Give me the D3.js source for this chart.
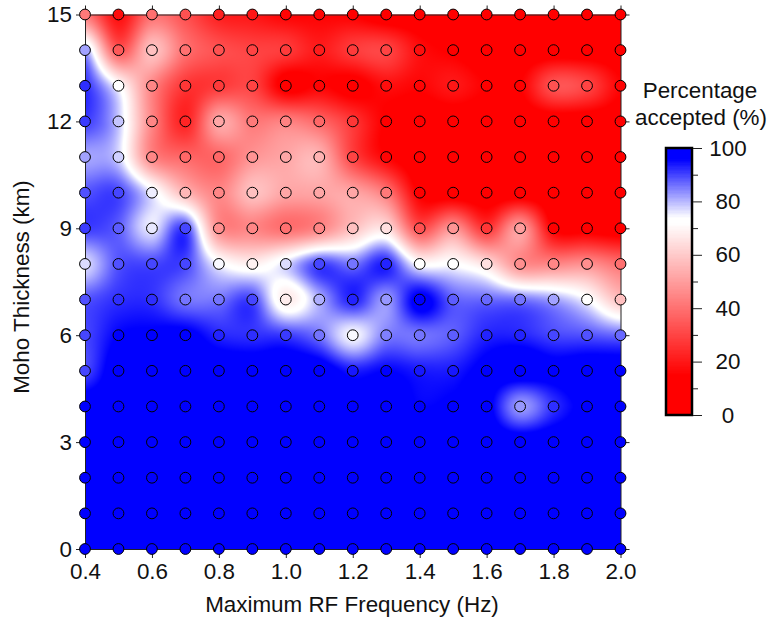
<!DOCTYPE html>
<html lang="en">
<head>
<meta charset="UTF-8">
<title>Percentage accepted</title>
<script src="https://cdn.jsdelivr.net/npm/d3@7"></script>
<style>
  html, body { margin: 0; padding: 0; background: #fff; }
  svg { display: block; }
  text { font-family: "Liberation Sans", Arial, sans-serif; fill: #111; }
</style>
</head>
<body>
<div id="container"></div>
<script>
// grid axes
const freqs = [0.4, 0.5, 0.6, 0.7, 0.8, 0.9, 1.0, 1.1, 1.2, 1.3, 1.4, 1.5, 1.6, 1.7, 1.8, 1.9, 2.0]
const thicknesses = [15, 14, 13, 12, 11, 10, 9, 8, 7, 6, 5, 4, 3, 2, 1, 0]
const freqTicks = [0.4, 0.6, 0.8, 1.0, 1.2, 1.4, 1.6, 1.8, 2.0]
const thickTicks = [0, 3, 6, 9, 12, 15]
const barTicks = [0, 20, 40, 60, 80, 100]
const barMinorTicks = [10, 30, 50, 70, 90]

// percentage accepted, one list per moho thickness
const row15 = [42, 18, 40, 33, 22, 20, 16, 16, 15, 10, 10, 10, 10, 10, 10, 10, 10]
const row14 = [82, 35, 58, 40, 33, 30, 28, 21, 28, 30, 18, 14, 10, 10, 10, 10, 10]
const row13 = [92, 73, 45, 27, 28, 30, 12, 16, 12, 18, 16, 20, 15, 15, 33, 30, 16]
const row12 = [91, 79, 45, 23, 52, 42, 44, 38, 27, 14, 10, 10, 10, 10, 10, 10, 10]
const row11 = [82, 78, 45, 38, 38, 48, 52, 55, 30, 16, 10, 10, 10, 10, 10, 10, 10]
const row10 = [89, 90, 75.5, 56, 45, 58, 52, 52, 52, 42, 14, 10, 10, 10, 10, 10, 10]
const row9 = [91, 88, 76, 90, 47, 45, 40, 45, 58, 65, 33, 48, 27, 50, 15, 12, 10]
const row8 = [77, 89, 90, 90, 74.5, 69, 77, 90, 86, 93, 73, 73, 65, 47, 45, 47, 40]
const row7 = [89, 92, 92, 86, 86, 90, 68, 81, 93, 83, 98, 88, 87, 86, 82, 74, 58]
const row6 = [90, 96, 97, 98, 93, 92, 91, 86, 74.5, 85, 86, 88, 93, 93, 90, 89, 87]
const row5 = [90, 100, 100, 100, 100, 100, 100, 100, 94, 96, 94, 94, 98, 100, 98, 100, 100]
const row4 = [100, 100, 100, 100, 100, 100, 100, 100, 98, 100, 96, 97, 98, 83, 92, 98, 100]
const row3 = [100, 100, 100, 100, 100, 100, 100, 100, 100, 100, 100, 100, 100, 100, 100, 100, 100]
const row2 = [100, 100, 100, 100, 100, 100, 100, 100, 100, 100, 100, 100, 100, 100, 100, 100, 100]
const row1 = [100, 100, 100, 100, 100, 100, 100, 100, 100, 100, 100, 100, 100, 100, 100, 100, 100]
const row0 = [100, 100, 100, 100, 100, 100, 100, 100, 100, 100, 100, 100, 100, 100, 100, 100, 100]
const accepted = [row15, row14, row13, row12, row11, row10, row9, row8, row7, row6, row5, row4, row3, row2, row1, row0]

const w = 769; const h = 621
const left = 85; const right = 620.5; const top_ = 14.5; const bottom = 549
const barX = 666; const barW = 26; const barTop = 148; const barBottom = 415
const fontSize = 22.4

const x = d3.scaleLinear([0.4, 2.0], [left, right])
const y = d3.scaleLinear([0, 15], [bottom, top_])
const barY = d3.scaleLinear([0, 100], [barBottom, barTop])

// red up to about 15, white near 73, blue from about 96
const color = d3.scaleLinear()
    .domain([0, 15, 72, 74, 96, 100])
    .range(["#ff0000", "#ff0000", "#ffffff", "#ffffff", "#0000ff", "#0000ff"])
    .clamp(true)

const svg = d3.select("#container").append("svg").attr("width", w).attr("height", h)

// catmull-rom through 4 neighbours, used for the smooth background
function cr(a, b, c, d, t) {
    return 0.5 * (2 * b + (c - a) * t + (2 * a - 5 * b + 4 * c - d) * t * t + (3 * b - a - 3 * c + d) * t * t * t)
}
function sample(fx, fy) { //fx,fy are fractional grid indices
    const nx = freqs.length; const ny = thicknesses.length
    const i = Math.min(Math.floor(fx), nx - 2); const j = Math.min(Math.floor(fy), ny - 2)
    const cols = []
    for (let k = -1; k <= 2; k++) {
        const r = accepted[Math.max(0, Math.min(ny - 1, j + k))]
        cols.push(cr(r[Math.max(0, i - 1)], r[i], r[i + 1], r[Math.min(nx - 1, i + 2)], fx - i))
    }
    return cr(cols[0], cols[1], cols[2], cols[3], fy - j)
}

// paint the field to a canvas, put it in the svg as an image
const cw = Math.round(right - left); const ch = Math.round(bottom - top_)
const canvas = document.createElement("canvas")
canvas.width = cw; canvas.height = ch
const ctx = canvas.getContext("2d")
const img = ctx.createImageData(cw, ch)
const xGrid = d3.scaleLinear([0.4, 2.0], [0, freqs.length - 1])
const yGrid = d3.scaleLinear([15, 0], [0, thicknesses.length - 1])
for (let py = 0; py < ch; py++) {
    for (let px = 0; px < cw; px++) {
        const f = x.invert(left + px + 0.5); const t = y.invert(top_ + py + 0.5)
        const c = d3.rgb(color(sample(xGrid(f), yGrid(t))))
        const o = (py * cw + px) * 4
        img.data[o] = c.r; img.data[o + 1] = c.g; img.data[o + 2] = c.b; img.data[o + 3] = 255
    }
}
ctx.putImageData(img, 0, 0)
svg.append("image").attr("x", left).attr("y", top_).attr("width", cw).attr("height", ch)
    .attr("href", canvas.toDataURL())

// frame + ticks on all four sides
const fmtF = d3.format(".1f")
const axes = [
    [d3.axisBottom(x).tickValues(freqTicks).tickFormat(fmtF), 0, bottom, 5],
    [d3.axisTop(x).tickValues(freqTicks).tickFormat(""), 0, top_, 4],
    [d3.axisLeft(y).tickValues(thickTicks), left, 0, 4],
    [d3.axisRight(y).tickValues(thickTicks).tickFormat(""), right, 0, 4]
]
axes.forEach(([ax, tx, ty, pad]) => {
    const g = svg.append("g").attr("transform", `translate(${tx},${ty})`)
        .call(ax.tickSize(9).tickSizeOuter(0).tickPadding(pad))
    g.attr("font-family", null).attr("font-size", fontSize)
    g.selectAll("path, line").attr("stroke", "#222").attr("stroke-width", 1)
})

// grid points
const points = []
thicknesses.forEach((t, j) => freqs.forEach((f, i) => points.push({ f, t, v: accepted[j][i] })))
svg.append("g").selectAll("circle").data(points).enter().append("circle")
    .attr("cx", d => x(d.f)).attr("cy", d => y(d.t)).attr("r", 5.4)
    .attr("fill", d => color(d.v)).attr("stroke", "#000").attr("stroke-width", 1)

// colour bar
const barSteps = d3.range(0, 100, 0.5)
svg.append("g").attr("shape-rendering", "crispEdges").selectAll("rect").data(barSteps).enter().append("rect")
    .attr("x", barX).attr("width", barW)
    .attr("y", d => barY(d + 0.5)).attr("height", d => barY(d) - barY(d + 0.5) + 0.5)
    .attr("fill", d => color(d + 0.25))
svg.append("rect").attr("x", barX).attr("y", barTop).attr("width", barW).attr("height", barBottom - barTop)
    .attr("fill", "none").attr("stroke", "#000").attr("stroke-width", 2.5)

const barMajor = svg.append("g").attr("transform", `translate(${barX + barW + 1},0)`)
    .call(d3.axisRight(barY).tickValues(barTicks).tickSize(9).tickPadding(0))
barMajor.select(".domain").remove()
barMajor.attr("font-family", null).attr("font-size", fontSize)
barMajor.selectAll("line").attr("stroke", "#222")
barMajor.selectAll("text").attr("text-anchor", "middle").attr("x", 35)
const barMinor = svg.append("g").attr("transform", `translate(${barX + barW + 1},0)`)
    .call(d3.axisRight(barY).tickValues(barMinorTicks).tickSize(5).tickFormat(""))
barMinor.select(".domain").remove()
barMinor.selectAll("line").attr("stroke", "#222")

// titles
svg.append("text").attr("x", 352).attr("y", 612).attr("text-anchor", "middle").attr("font-size", fontSize)
    .text("Maximum RF Frequency (Hz)")
svg.append("text").attr("transform", "translate(29,287) rotate(-90)").attr("text-anchor", "middle").attr("font-size", fontSize)
    .text("Moho Thickness (km)")
svg.append("text").attr("x", 700).attr("y", 98).attr("text-anchor", "middle").attr("font-size", fontSize).text("Percentage")
svg.append("text").attr("x", 701).attr("y", 125).attr("text-anchor", "middle").attr("font-size", fontSize).text("accepted (%)")
</script>
</body>
</html>
